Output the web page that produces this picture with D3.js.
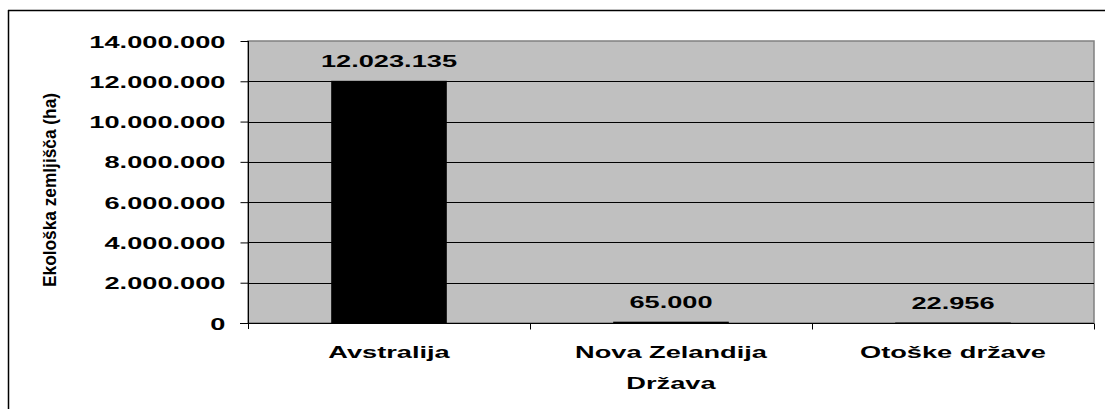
<!DOCTYPE html>
<html>
<head>
<meta charset="utf-8">
<script src="https://cdn.jsdelivr.net/npm/d3@7"></script>
<style>
	body { margin: 0; background: #fff; }
	text { font-family: "Liberation Sans", Arial, sans-serif; font-weight: bold; }
</style>
</head>
<body>
<div class="chart"></div>
<script>
const categories = ['Avstralija', 'Nova Zelandija', 'Otoške države'];
const values = [12023135, 65000, 22956];
const yTicks = [0, 2000000, 4000000, 6000000, 8000000, 10000000, 12000000, 14000000];
const yTitle = 'Ekološka zemljišča (ha)';
const xTitle = 'Država';

const width = 1105;
const height = 409;
const fmt = v => d3.format(',')(v).replace(/,/g, '.');

// stretch text sideways like the original export
function stretch(sel, k) {
	sel.each(function() {
		const l = this.getComputedTextLength();
		d3.select(this).attr('textLength', l * k).attr('lengthAdjust', 'spacingAndGlyphs');
	});
}

const svg = d3.select('.chart')
	.append('svg')
	.attr('width', width)
	.attr('height', height);

// outer frame (only top and left visible)
svg.append('line').attr('x1', 8).attr('x2', width).attr('y1', 10.5).attr('y2', 10.5)
	.attr('stroke', '#000').attr('stroke-width', 1.5);
svg.append('line').attr('x1', 8.5).attr('x2', 8.5).attr('y1', 10).attr('y2', height)
	.attr('stroke', '#000').attr('stroke-width', 1.5);

const x = d3.scaleBand()
	.domain(categories)
	.range([248, 1094])
	.paddingInner(0.59)
	.paddingOuter(0.295);

const y = d3.scaleLinear()
	.domain([0, 14000000])
	.range([323, 41]);

// plot area
svg.append('rect')
	.attr('x', 248).attr('y', 41)
	.attr('width', 1094 - 248).attr('height', 323 - 41)
	.attr('fill', '#c0c0c0')
	.attr('stroke', '#808080')
	.attr('stroke-width', 1.5);

svg.selectAll('.grid')
	.data(yTicks.slice(1, -1))
	.enter()
	.append('line')
	.attr('class', 'grid')
	.attr('x1', 248).attr('x2', 1094)
	.attr('y1', d => Math.round(y(d)) + 0.5)
	.attr('y2', d => Math.round(y(d)) + 0.5)
	.attr('stroke', '#000')
	.attr('stroke-width', 1);

svg.selectAll('.bar')
	.data(values)
	.enter()
	.append('rect')
	.attr('class', 'bar')
	.attr('x', (d, i) => x(categories[i]))
	.attr('y', d => y(d))
	.attr('width', x.bandwidth())
	.attr('height', d => y(0) - y(d))
	.attr('fill', '#000');

// y axis
const yAxis = svg.append('g')
	.attr('transform', 'translate(248.5,0)')
	.call(d3.axisLeft(y).tickValues(yTicks).tickSize(8).tickPadding(15).tickFormat(fmt));
yAxis.select('.domain').remove();
yAxis.append('line').attr('x1', 0).attr('x2', 0).attr('y1', 41).attr('y2', 329).attr('stroke', '#000');
yAxis.selectAll('.tick line').attr('stroke', '#000');
yAxis.selectAll('.tick text')
	.attr('font-size', '17px')
	.attr('fill', '#000')
	.attr('dy', '0.36em');
stretch(yAxis.selectAll('.tick text'), 1.6);

// x axis
const xAxis = svg.append('g').attr('transform', 'translate(0,323.5)');
xAxis.append('line').attr('x1', 240).attr('x2', 1094).attr('y1', 0).attr('y2', 0).attr('stroke', '#000');
const step = x.step();
xAxis.selectAll('.xtick')
	.data(categories)
	.enter()
	.append('line')
	.attr('class', 'xtick')
	.attr('x1', d => Math.round(x(d) + x.bandwidth() / 2 + step / 2) + 0.5)
	.attr('x2', d => Math.round(x(d) + x.bandwidth() / 2 + step / 2) + 0.5)
	.attr('y1', 0).attr('y2', 6)
	.attr('stroke', '#000');
const catLabels = xAxis.selectAll('.cat')
	.data(categories)
	.enter()
	.append('text')
	.attr('class', 'cat')
	.attr('x', d => x(d) + x.bandwidth() / 2)
	.attr('y', 34)
	.attr('text-anchor', 'middle')
	.attr('font-size', '17px')
	.text(d => d);
stretch(catLabels, 1.6);

// value labels
const valLabels = svg.selectAll('.val')
	.data(values)
	.enter()
	.append('text')
	.attr('class', 'val')
	.attr('x', (d, i) => x(categories[i]) + x.bandwidth() / 2)
	.attr('y', d => y(d) - 14)
	.attr('text-anchor', 'middle')
	.attr('font-size', '17px')
	.text(d => fmt(d));
stretch(valLabels, 1.6);

// axis titles
const xt = svg.append('text')
	.attr('x', x('Nova Zelandija') + x.bandwidth() / 2)
	.attr('y', 389)
	.attr('text-anchor', 'middle')
	.attr('font-size', '17px')
	.text(xTitle);
stretch(xt, 1.6);

svg.append('text')
	.attr('transform', 'translate(56,190) rotate(-90)')
	.attr('text-anchor', 'middle')
	.attr('font-size', '18px')
	.attr('textLength', 194)
	.attr('lengthAdjust', 'spacingAndGlyphs')
	.text(yTitle);
</script>
</body>
</html>
